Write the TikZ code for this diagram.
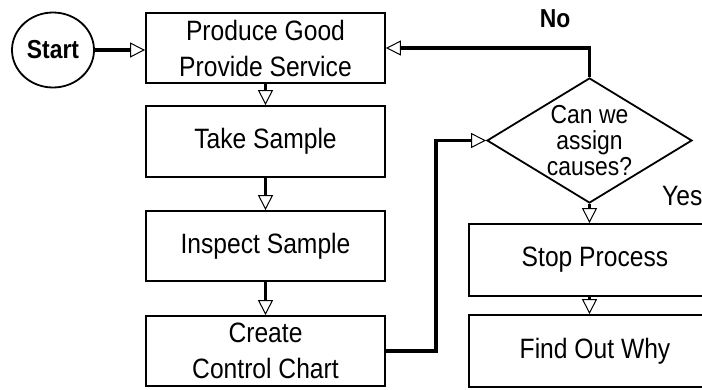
\documentclass[tikz,border=0pt]{standalone}
\usepackage{fontspec}
\setmainfont[FakeStretch=0.88]{Liberation Sans}
\usetikzlibrary{arrows.meta,shapes.geometric}
\begin{document}
\begin{tikzpicture}[x=1pt,y=-1pt,
  box/.style={draw, line width=1.8pt, rectangle, minimum width=239pt, minimum height=70pt, inner sep=0pt, align=center, font=\fontsize{28}{36}\selectfont},
  rbox/.style={box, minimum width=252pt, minimum height=72pt},
  conn/.style={line width=3.5pt, -{Triangle[fill=white,length=15pt,width=15pt,line width=1pt]}},
  lbl/.style={inner sep=0pt, font=\fontsize{28}{30}\selectfont}]
\useasboundingbox (0,0) rectangle (702,389);
\clip (0,0) rectangle (702,389);
\node[ellipse, draw, line width=1.8pt, minimum width=82pt, minimum height=75pt, inner sep=0pt, font=\bfseries\fontsize{26}{30}\selectfont] (start) at (53,50) {Start};
\node[box] (produce) at (265.5,48) {Produce Good\\Provide Service};
\node[box, minimum height=71pt] (take) at (265.5,141.5) {Take Sample};
\node[box] (inspect) at (265.5,246) {Inspect Sample};
\node[box] (create) at (265.5,351) {Create\\Control Chart};
\node[diamond, draw, line width=1.8pt, minimum width=205pt, minimum height=125pt, inner sep=0pt] (dec) at (589.5,140.5) {};
\node[align=center, inner sep=0pt, font=\fontsize{26}{26}\selectfont] (dectext) at (589.5,141) {Can we\\assign\\causes?};
\node[rbox] (stop) at (595,260) {Stop Process};
\node[rbox] (find) at (595,351) {Find Out Why};
\node[lbl, font=\bfseries\fontsize{26}{30}\selectfont] (no) at (555,19) {No};
\node[lbl, anchor=base west] (yes) at (662,205) {Yes};
\draw[conn] (start.east) -- (start.east -| produce.west);
\draw[conn] (produce.south) -- (take.north);
\draw[conn] (take.south) -- (inspect.north);
\draw[conn] (inspect.south) -- (create.north);
\draw[conn] (create.east) -- ++(50,0) |- (dec.west);
\draw[conn] (dec.north) |- (produce.east);
\draw[conn] (dec.south) -- (dec.south |- stop.north);
\draw[conn] (stop.south -| dec.south) -- (dec.south |- find.north);
\end{tikzpicture}
\end{document}
